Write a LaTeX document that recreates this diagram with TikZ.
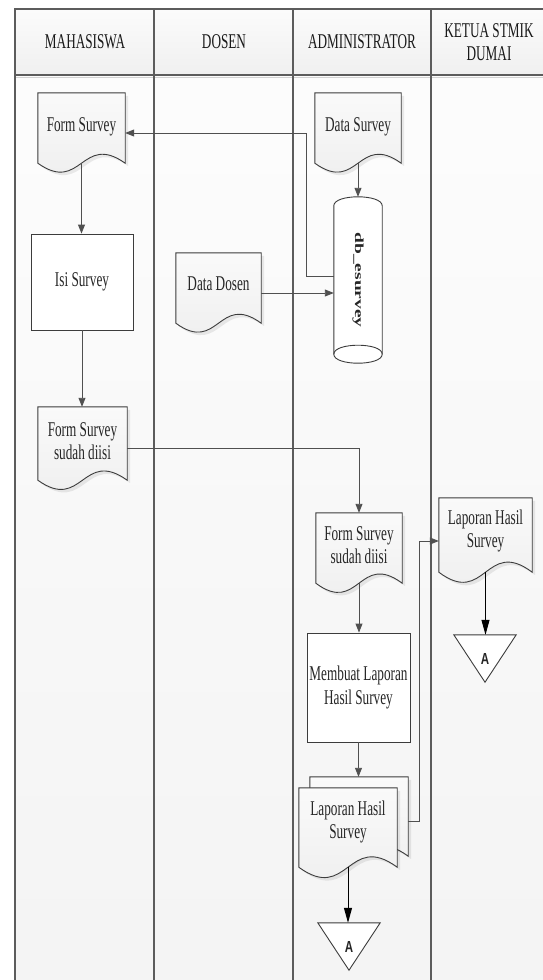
\documentclass[tikz,border=0pt]{standalone}
\usepackage{fontspec}
\usepackage{graphicx}
\setmainfont{Liberation Serif}[FakeStretch=0.63]
\newfontfamily\plainserif{Liberation Serif}
\newfontfamily\afont{Liberation Sans}[FakeStretch=0.72]
\usetikzlibrary{arrows.meta,calc}
\pgfdeclarelayer{back}
\pgfdeclarelayer{mid}
\pgfsetlayers{back,mid,main}
\definecolor{lanec}{HTML}{5C5C5C}
\definecolor{ink}{HTML}{262626}
\definecolor{outl}{HTML}{3C3C3C}
\definecolor{connc}{HTML}{505050}
\tikzset{
  txt/.style={font=\fontsize{21}{23.5}\selectfont, text=ink, align=center, inner sep=0pt},
  hdr/.style={txt, text=black!90},
  docbox/.style={inner sep=0pt},
  procbox/.style={txt, draw=outl, fill=white, line width=0.9pt},
  docline/.style={draw=outl, line width=0.9pt, top color=gray!4, bottom color=gray!14},
  docshadow/.style={fill=black, opacity=0.08},
  cylline/.style={draw=outl, line width=0.9pt, fill=white},
  conn/.style={draw=connc, line width=0.9pt, -{Triangle[length=9pt,width=7pt]}},
  conna/.style={draw=black, line width=1pt, -{Triangle[length=15pt,width=8pt]}},
  lanestyle/.style={draw=lanec, line width=1.2pt},
  tribox/.style={minimum width=62pt, minimum height=47pt, inner sep=0pt,
    font=\afont\bfseries\fontsize{16}{16}\selectfont, text=ink},
  triline/.style={draw=outl, line width=0.9pt, fill=white}
}
% #1 node name, #2 wave control offset
\newcommand\drawdoc[2]{%
  \begin{pgfonlayer}{mid}
  \path[docshadow] ($(#1.north west)+(3,3)$) -- ($(#1.north east)+(3,3)$) -- ($(#1.south east)+(3,3)$)
     .. controls ($(#1.south)+(3,3-#2)$) and ($(#1.south)+(3,3+#2)$) .. ($(#1.south west)+(3,3)$) -- cycle;
  \path[docline] (#1.north west) -- (#1.north east) -- (#1.south east)
     .. controls ($(#1.south)+(0,-#2)$) and ($(#1.south)+(0,#2)$) .. (#1.south west) -- cycle;
  \end{pgfonlayer}}
% #1 name, #2 cx, #3 cy, #4 w, #5 h, #6 text dy, #7 wave, #8 text
\newcommand\docnode[8]{%
  \node[docbox, minimum width=#4pt, minimum height=#5pt] (#1) at (#2,#3) {};
  \node[txt] (#1-t) at ($(#1)+(0,#6)$) {#8};
  \drawdoc{#1}{#7}}

\begin{document}
\begin{tikzpicture}[x=1pt,y=-1pt]
\useasboundingbox (0,0) rectangle (542,980);
\clip (0,0) rectangle (542,980);

% ---------- swimlane frame ----------
\begin{pgfonlayer}{back}
  \fill[white] (0,0) rectangle (542,980);
  \shade[top color=gray!2, bottom color=gray!9] (15,75) rectangle (580,1000);
  \shade[top color=gray!3, bottom color=gray!12] (15,9) rectangle (580,75);
  \draw[gray!35, line width=1pt] (15,77.5) -- (580,77.5);
  \draw[lanestyle] (15,1000) -- (15,9) -- (580,9);
  \draw[lanestyle] (15,75) -- (580,75);
  \foreach \x in {154,293,431} \draw[lanestyle] (\x,9) -- (\x,1000);
\end{pgfonlayer}

\node[hdr] (h1) at (85,42) {MAHASISWA};
\node[hdr] (h2) at (224,42) {DOSEN};
\node[hdr] (h3) at (362,42) {ADMINISTRATOR};
\node[hdr] (h4) at (489,42) {KETUA STMIK\\DUMAI};

% ---------- shapes ----------
\docnode{fs}{81.5}{128}{87}{70}{-1}{31}{Form Survey}
\docnode{ds}{358}{128}{86}{70}{-1}{31}{Data Survey}
\node[procbox, minimum width=102pt, minimum height=96pt] (is) at (82,282) {Isi Survey};
\docnode{dd}{218.5}{288}{85}{70}{-4}{31}{Data Dosen}

\node[inner sep=0pt, minimum width=48pt, minimum height=148pt, text=ink] (db) at (358,280)
  {\rotatebox{-90}{\scalebox{1}[0.63]{\plainserif\bfseries\fontsize{19.5}{20}\selectfont db\_esurvey}}};
\begin{pgfonlayer}{mid}
  \path[cylline] (db.north west) .. controls ($(db.north west)+(0,-12)$) and ($(db.north east)+(0,-12)$) .. (db.north east)
     -- (db.south east) .. controls ($(db.south east)+(0,12)$) and ($(db.south west)+(0,12)$) .. (db.south west) -- cycle;
  \draw[outl, line width=0.9pt] (db.south west) .. controls ($(db.south west)+(0,-12)$) and ($(db.south east)+(0,-12)$) .. (db.south east);
\end{pgfonlayer}
\coordinate (dbtop) at ($(db.north)+(0,-9)$);

\docnode{fs2}{82.5}{443.5}{89}{73}{-2.5}{32}{Form Survey\\sudah diisi}
\docnode{fs3}{359}{548}{86}{70}{-3}{32}{Form Survey\\sudah diisi}
\node[procbox, minimum width=103pt, minimum height=109pt] (mk) at (358.5,687.5) {Membuat Laporan\\Hasil Survey};

\node[docbox, minimum width=98pt, minimum height=79pt] (ldb) at (359,816.5) {};
\drawdoc{ldb}{36}
\docnode{ld}{348}{827.5}{98}{79}{-5.5}{36}{Laporan Hasil\\Survey}
\docnode{kd}{485.5}{535}{93}{74}{-4}{35}{Laporan Hasil\\Survey}

\node[tribox] (ta1) at (485,658.5) {A};
\node[tribox] (ta2) at (349,946.5) {A};
\begin{pgfonlayer}{mid}
  \path[triline] (ta1.north west) -- (ta1.north east) -- (ta1.south) -- cycle;
  \path[triline] (ta2.north west) -- (ta2.north east) -- (ta2.south) -- cycle;
\end{pgfonlayer}

% ---------- connectors ----------
\coordinate (dbout) at ($(db.west)+(0,-4)$);
\coordinate (fsin) at ($(fs.east)+(0,5)$);
\draw[conn] (dbout) -- ++(-27,0) |- (fsin);
\draw[conn] (ds.south) -- (dbtop);
\draw[conn] (fs.south) -- (fs.south |- is.north);
\coordinate (ddout) at ($(dd.east)+(0,5)$);
\draw[conn] (ddout) -- (ddout -| db.west);
\draw[conn] (is.south) -- (is.south |- fs2.north);
\coordinate (fs2out) at ($(fs2.east)+(0,5)$);
\draw[conn] (fs2out) -| (fs3.north);
\draw[conn] (fs3.south) -- (fs3.south |- mk.north);
\draw[conn] (mk.south) -- (mk.south |- ldb.north);
\coordinate (ldbout) at ($(ldb.east)+(0,5)$);
\coordinate (kdin) at ($(kd.west)+(0,6)$);
\draw[conn] (ldbout) -- ++(11,0) |- (kdin);
\draw[conna] (kd.south) -- (kd.south |- ta1.north);
\draw[conna] (ld.south) -- (ld.south |- ta2.north);
\end{tikzpicture}
\end{document}
